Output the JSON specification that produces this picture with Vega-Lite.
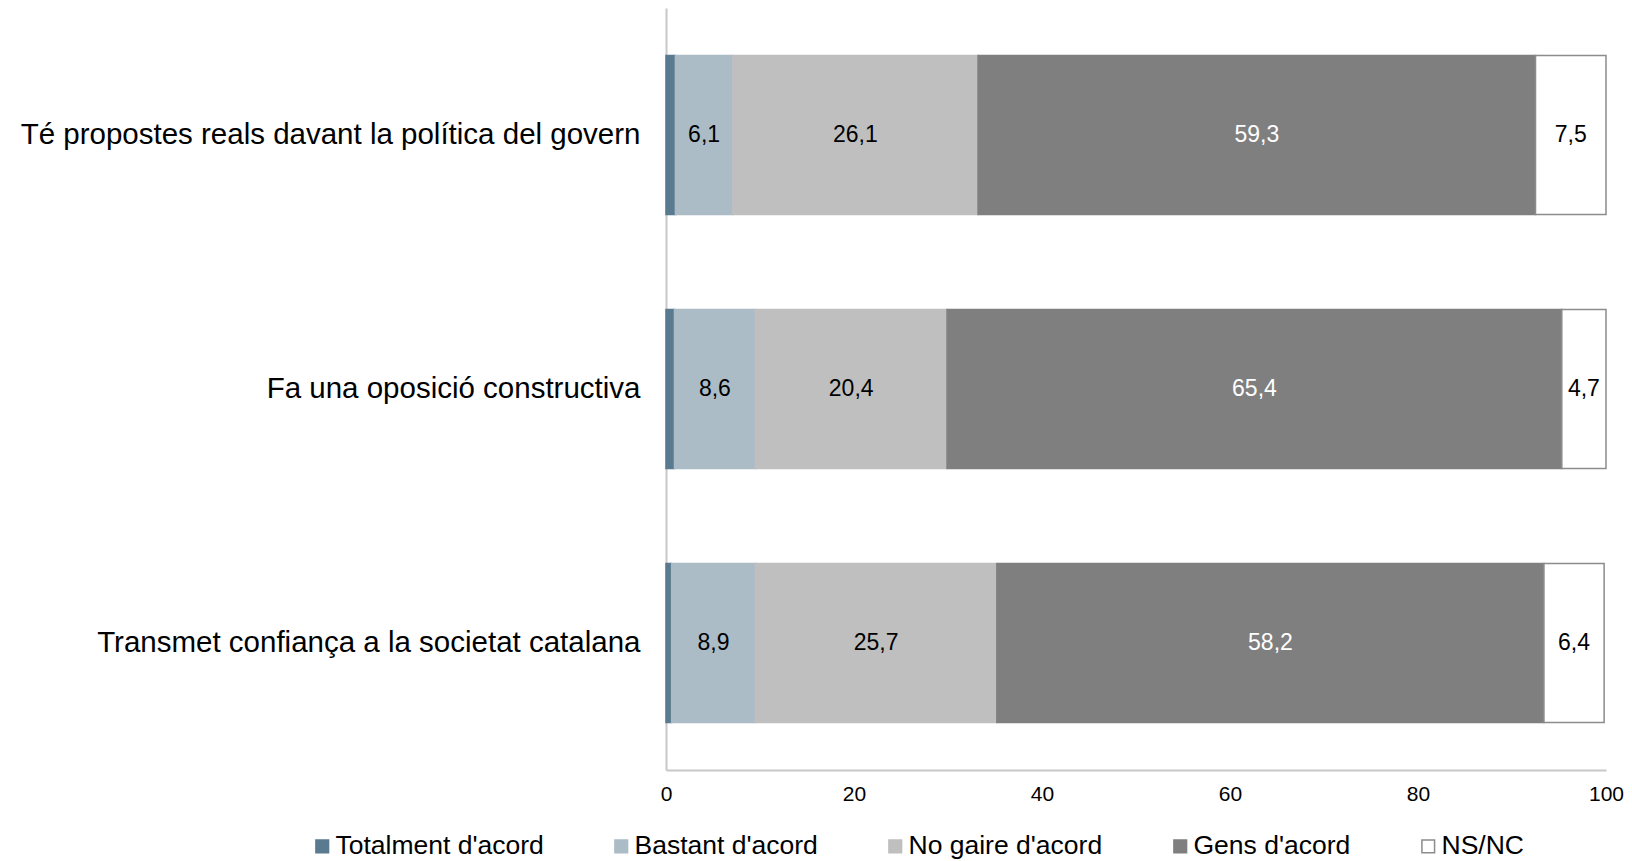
{
  "$schema": "https://vega.github.io/schema/vega-lite/v6.json",
  "width": 940,
  "height": 762,
  "autosize": {"type": "none"},
  "padding": {"left": 666, "top": 8, "right": 26, "bottom": 91},
  "background": "white",
  "config": {"view": {"stroke": null}, "font": "Liberation Sans"},
  "data": {
    "values": [
      {"item": "Té propostes reals davant la política del govern", "resposta": "Totalment d'acord", "valor": 1.0},
      {"item": "Té propostes reals davant la política del govern", "resposta": "Bastant d'acord", "valor": 6.1},
      {"item": "Té propostes reals davant la política del govern", "resposta": "No gaire d'acord", "valor": 26.1},
      {"item": "Té propostes reals davant la política del govern", "resposta": "Gens d'acord", "valor": 59.3},
      {"item": "Té propostes reals davant la política del govern", "resposta": "NS/NC", "valor": 7.5},
      {"item": "Fa una oposició constructiva", "resposta": "Totalment d'acord", "valor": 0.9},
      {"item": "Fa una oposició constructiva", "resposta": "Bastant d'acord", "valor": 8.6},
      {"item": "Fa una oposició constructiva", "resposta": "No gaire d'acord", "valor": 20.4},
      {"item": "Fa una oposició constructiva", "resposta": "Gens d'acord", "valor": 65.4},
      {"item": "Fa una oposició constructiva", "resposta": "NS/NC", "valor": 4.7},
      {"item": "Transmet confiança a la societat catalana", "resposta": "Totalment d'acord", "valor": 0.6},
      {"item": "Transmet confiança a la societat catalana", "resposta": "Bastant d'acord", "valor": 8.9},
      {"item": "Transmet confiança a la societat catalana", "resposta": "No gaire d'acord", "valor": 25.7},
      {"item": "Transmet confiança a la societat catalana", "resposta": "Gens d'acord", "valor": 58.2},
      {"item": "Transmet confiança a la societat catalana", "resposta": "NS/NC", "valor": 6.4}
    ]
  },
  "transform": [
    {"calculate": "indexof(['Totalment d\\'acord', 'Bastant d\\'acord', 'No gaire d\\'acord', 'Gens d\\'acord', 'NS/NC'], datum.resposta)", "as": "ordre"},
    {"stack": "valor", "groupby": ["item"], "sort": [{"field": "ordre", "order": "ascending"}], "as": ["v0", "v1"]},
    {"calculate": "(datum.v0 + datum.v1) / 2", "as": "mig"},
    {"calculate": "replace(format(datum.valor, '.1f'), '.', ',')", "as": "etiqueta"}
  ],
  "encoding": {
    "y": {
      "field": "item",
      "type": "nominal",
      "sort": ["Té propostes reals davant la política del govern", "Fa una oposició constructiva", "Transmet confiança a la societat catalana"],
      "scale": {"paddingInner": 0.374, "paddingOuter": 0.187},
      "axis": {
        "title": null,
        "ticks": false,
        "labelFontSize": 29.5,
        "labelColor": "black",
        "labelLimit": 700,
        "labelPadding": 26,
        "domainColor": "#C8C8C8",
        "domainWidth": 2
      }
    }
  },
  "layer": [
    {
      "mark": {"type": "bar", "strokeWidth": 1.5},
      "encoding": {
        "x": {
          "field": "v0",
          "type": "quantitative",
          "scale": {"domain": [0, 100], "nice": false},
          "axis": {
            "title": null,
            "values": [0, 20, 40, 60, 80, 100],
            "ticks": false,
            "grid": false,
            "labelFontSize": 21,
            "labelColor": "black",
            "labelFlush": false,
            "labelPadding": 13,
            "domainColor": "#C8C8C8",
            "domainWidth": 2
          }
        },
        "x2": {"field": "v1"},
        "fill": {
          "field": "resposta",
          "type": "nominal",
          "scale": {
            "domain": ["Totalment d'acord", "Bastant d'acord", "No gaire d'acord", "Gens d'acord", "NS/NC"],
            "range": ["#5A7A8F", "#ABBCC7", "#BFBFBF", "#7F7F7F", "#FFFFFF"]
          },
          "legend": {
            "orient": "none",
            "legendX": -357,
            "legendY": 825,
            "direction": "horizontal",
            "title": null,
            "symbolType": "square",
            "symbolSize": 160,
            "symbolStrokeWidth": 1.5,
            "labelFontSize": 26.5,
            "labelColor": "black",
            "labelOffset": 0,
            "labelLimit": 400,
            "columnPadding": 64
          }
        },
        "stroke": {
          "field": "resposta",
          "type": "nominal",
          "scale": {
            "domain": ["Totalment d'acord", "Bastant d'acord", "No gaire d'acord", "Gens d'acord", "NS/NC"],
            "range": ["#5A7A8F", "#ABBCC7", "#BFBFBF", "#7F7F7F", "#8C8C8C"]
          },
          "legend": {
            "orient": "none",
            "legendX": -357,
            "legendY": 825,
            "direction": "horizontal",
            "title": null,
            "symbolType": "square",
            "symbolSize": 160,
            "symbolStrokeWidth": 1.5,
            "labelFontSize": 26.5,
            "labelColor": "black",
            "labelOffset": 0,
            "labelLimit": 400,
            "columnPadding": 64
          }
        }
      }
    },
    {
      "transform": [{"filter": "datum.resposta != \"Totalment d'acord\""}],
      "mark": {"type": "text", "fontSize": 23},
      "encoding": {
        "x": {"field": "mig", "type": "quantitative"},
        "text": {"field": "etiqueta", "type": "nominal"},
        "color": {
          "condition": {"test": "datum.resposta == \"Gens d'acord\"", "value": "white"},
          "value": "black"
        }
      }
    }
  ]
}
